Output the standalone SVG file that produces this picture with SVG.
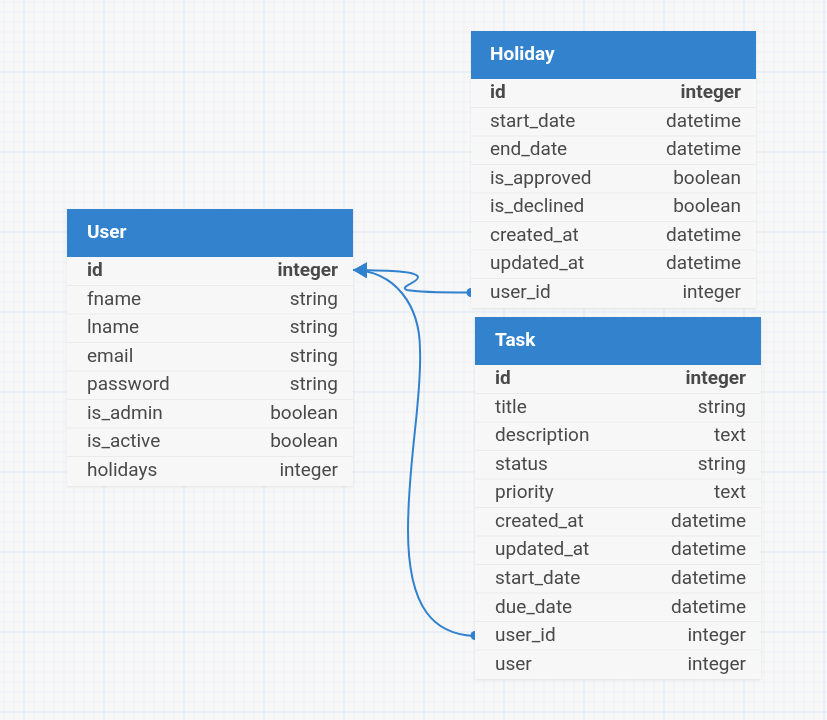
<svg xmlns="http://www.w3.org/2000/svg" width="827" height="720" viewBox="0 0 827 720">
<defs>
<pattern id="minor" x="3.5" y="1.5" width="10" height="10" patternUnits="userSpaceOnUse">
<path d="M0 0 H10 M0 0 V10" stroke="#e3eaf6" stroke-width="1" fill="none"/>
</pattern>
<pattern id="major" x="23.5" y="-8.5" width="80" height="80" patternUnits="userSpaceOnUse">
<path d="M0 0 H80 M0 0 V80" stroke="#d8e2f3" stroke-width="1" fill="none"/>
</pattern>
<marker id="arrow" viewBox="0 0 14 16" refX="14" refY="8" markerWidth="14" markerHeight="16" markerUnits="userSpaceOnUse" orient="auto">
<path d="M0 0 L14 8 L0 16 Z" fill="#3182ce"/>
</marker>
<filter id="sh" x="-5%" y="-5%" width="110%" height="110%">
<feDropShadow dx="0" dy="1" stdDeviation="1" flood-color="#000" flood-opacity="0.08"/>
</filter>
</defs>
<style>
.hdr{fill:#3182ce}
.body{fill:#f7f7f7}
.sep{stroke:#ebebeb;stroke-width:1}
.title{font-family:Roboto,"Liberation Sans",sans-serif;font-weight:bold;font-size:19px;fill:#ffffff}
.t{font-family:Roboto,"Liberation Sans",sans-serif;font-size:19px;fill:#4a4a4a}
.b{font-weight:bold}
.r{text-anchor:end}
.conn{fill:none;stroke:#3182ce;stroke-width:2}
.dot{fill:#3182ce}
</style>
<rect width="827" height="720" fill="#f7f7f8"/>
<rect width="827" height="720" fill="url(#minor)"/>
<rect width="827" height="720" fill="url(#major)"/>

<g id="User" filter="url(#sh)">
<rect class="body" x="67" y="209" width="286" height="277"/>
<rect class="hdr" x="67" y="209" width="286" height="48"/>
<text class="title" x="87" y="238">User</text>
<g class="sep">
<line x1="67" y1="285.5" x2="353" y2="285.5"/><line x1="67" y1="314" x2="353" y2="314"/><line x1="67" y1="342.5" x2="353" y2="342.5"/><line x1="67" y1="371" x2="353" y2="371"/><line x1="67" y1="399.5" x2="353" y2="399.5"/><line x1="67" y1="428" x2="353" y2="428"/><line x1="67" y1="456.5" x2="353" y2="456.5"/>
</g>
<text class="t b" x="87" y="276">id</text><text class="t b r" x="338" y="276">integer</text>
<text class="t" x="87" y="305">fname</text><text class="t r" x="338" y="305">string</text>
<text class="t" x="87" y="333">lname</text><text class="t r" x="338" y="333">string</text>
<text class="t" x="87" y="362">email</text><text class="t r" x="338" y="362">string</text>
<text class="t" x="87" y="390">password</text><text class="t r" x="338" y="390">string</text>
<text class="t" x="87" y="419">is_admin</text><text class="t r" x="338" y="419">boolean</text>
<text class="t" x="87" y="447">is_active</text><text class="t r" x="338" y="447">boolean</text>
<text class="t" x="87" y="476">holidays</text><text class="t r" x="338" y="476">integer</text>
</g>

<g id="Holiday" filter="url(#sh)">
<rect class="body" x="471" y="31" width="285" height="277"/>
<rect class="hdr" x="471" y="31" width="285" height="48"/>
<text class="title" x="490" y="60">Holiday</text>
<g class="sep">
<line x1="471" y1="107.5" x2="756" y2="107.5"/><line x1="471" y1="136" x2="756" y2="136"/><line x1="471" y1="164.5" x2="756" y2="164.5"/><line x1="471" y1="193" x2="756" y2="193"/><line x1="471" y1="221.5" x2="756" y2="221.5"/><line x1="471" y1="250" x2="756" y2="250"/><line x1="471" y1="278.5" x2="756" y2="278.5"/>
</g>
<text class="t b" x="490" y="98">id</text><text class="t b r" x="741" y="98">integer</text>
<text class="t" x="490" y="127">start_date</text><text class="t r" x="741" y="127">datetime</text>
<text class="t" x="490" y="155">end_date</text><text class="t r" x="741" y="155">datetime</text>
<text class="t" x="490" y="184">is_approved</text><text class="t r" x="741" y="184">boolean</text>
<text class="t" x="490" y="212">is_declined</text><text class="t r" x="741" y="212">boolean</text>
<text class="t" x="490" y="241">created_at</text><text class="t r" x="741" y="241">datetime</text>
<text class="t" x="490" y="269">updated_at</text><text class="t r" x="741" y="269">datetime</text>
<text class="t" x="490" y="298">user_id</text><text class="t r" x="741" y="298">integer</text>
</g>

<g id="Task" filter="url(#sh)">
<rect class="body" x="475" y="317" width="286" height="362"/>
<rect class="hdr" x="475" y="317" width="286" height="48"/>
<text class="title" x="495" y="346">Task</text>
<g class="sep">
<line x1="475" y1="393.5" x2="761" y2="393.5"/><line x1="475" y1="422" x2="761" y2="422"/><line x1="475" y1="450.5" x2="761" y2="450.5"/><line x1="475" y1="479" x2="761" y2="479"/><line x1="475" y1="507.5" x2="761" y2="507.5"/><line x1="475" y1="536" x2="761" y2="536"/><line x1="475" y1="564.5" x2="761" y2="564.5"/><line x1="475" y1="593" x2="761" y2="593"/><line x1="475" y1="621.5" x2="761" y2="621.5"/><line x1="475" y1="650" x2="761" y2="650"/>
</g>
<text class="t b" x="495" y="384">id</text><text class="t b r" x="746" y="384">integer</text>
<text class="t" x="495" y="413">title</text><text class="t r" x="746" y="413">string</text>
<text class="t" x="495" y="441">description</text><text class="t r" x="746" y="441">text</text>
<text class="t" x="495" y="470">status</text><text class="t r" x="746" y="470">string</text>
<text class="t" x="495" y="498">priority</text><text class="t r" x="746" y="498">text</text>
<text class="t" x="495" y="527">created_at</text><text class="t r" x="746" y="527">datetime</text>
<text class="t" x="495" y="555">updated_at</text><text class="t r" x="746" y="555">datetime</text>
<text class="t" x="495" y="584">start_date</text><text class="t r" x="746" y="584">datetime</text>
<text class="t" x="495" y="613">due_date</text><text class="t r" x="746" y="613">datetime</text>
<text class="t" x="495" y="641">user_id</text><text class="t r" x="746" y="641">integer</text>
<text class="t" x="495" y="670">user</text><text class="t r" x="746" y="670">integer</text>
</g>

<g id="connectors">
<path class="conn" d="M 470 292.5 C 440 292.5, 416 292, 407 290 C 398 287, 419 282, 418 277 C 416 271, 392 270.5, 353 270" marker-end="url(#arrow)"/>
<path class="dot" d="M 471 288 A 4.5 4.5 0 0 0 471 297 Z"/>
<path class="conn" d="M 474 636 C 435 634, 408 610, 408 530 C 408 460, 422 400, 420 350 C 420 305, 395 271, 353 270" marker-end="url(#arrow)"/>
<path class="dot" d="M 475 631 A 4.5 4.5 0 0 0 475 640 Z"/>
</g>
</svg>
